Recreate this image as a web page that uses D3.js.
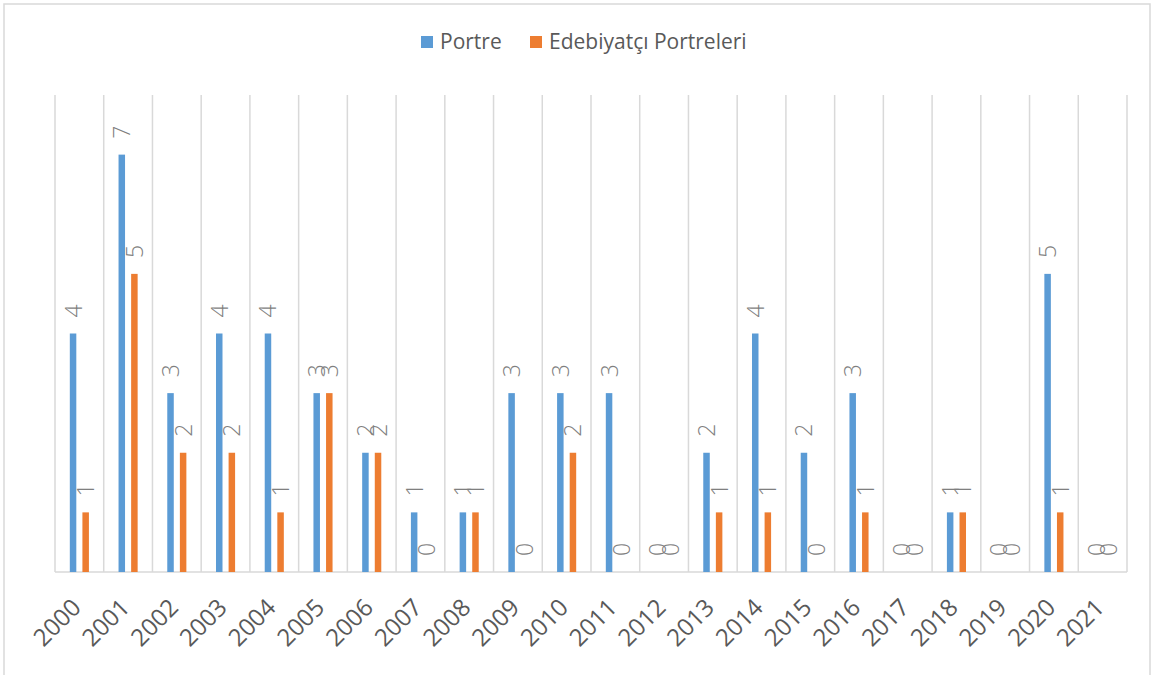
<!DOCTYPE html>
<html>
<head>
<meta charset="utf-8">
<style>
  body { margin: 0; background: #fff; }
  svg { display: block; font-family: 'Open Sans', 'Noto Sans', sans-serif; }
  .grid line { stroke: #d9d9d9; stroke-width: 1.5; }
  .x .domain { display: none; }
  .x .tick line { display: none; }
  .x .tick text { font-family: 'Open Sans', 'Noto Sans', sans-serif; font-size: 24px; fill: #595959; }
  .lbl { font-size: 23px; fill: #7f7f7f; font-weight: 300; }
  .legend text { font-size: 21px; fill: #595959; }
</style>
</head>
<body>
<svg width="1156" height="675"></svg>
<script src="https://d3js.org/d3.v7.min.js"></script>
<script>
  // chart values
  let years = ["2000","2001","2002","2003","2004","2005","2006","2007","2008","2009","2010",
               "2011","2012","2013","2014","2015","2016","2017","2018","2019","2020","2021"];
  let portre = [4,7,3,4,4,3,2,1,1,3,3,3,0,2,4,2,3,0,1,0,5,0];
  let edebiyatci = [1,5,2,2,1,3,2,0,1,0,2,0,0,1,1,0,1,0,1,0,1,0];
  let seriesNames = ["Portre", "Edebiyatçı Portreleri"];
  let colors = ["#5b9bd5", "#ed7d31"];

  let svg = d3.select("svg");

  let margin = { top: 95, right: 29, bottom: 103, left: 55 };
  let width = 1156, height = 675;

  // outer frame
  svg.append("rect")
    .attr("x", 4).attr("y", 4)
    .attr("width", 1146).attr("height", 690)
    .attr("fill", "none")
    .attr("stroke", "#d9d9d9")
    .attr("stroke-width", 1.5);

  let x = d3.scaleBand()
    .domain(years)
    .range([margin.left, width - margin.right])
    .paddingInner(0).paddingOuter(0);

  let y = d3.scaleLinear()
    .domain([0, 8])
    .range([height - margin.bottom, margin.top]);

  // two bars per year, centred 6.3px either side of the category centre
  let sub = d3.scaleBand()
    .domain([0, 1])
    .range([x.bandwidth() / 2 - 12.6, x.bandwidth() / 2 + 12.6]);

  // vertical gridlines at category boundaries
  let bounds = years.map(function (d) { return x(d) }).concat([x.range()[1]]);
  svg.append("g").attr("class", "grid")
    .selectAll("line")
    .data(bounds)
    .join("line")
    .attr("x1", function (d) { return d }).attr("x2", function (d) { return d })
    .attr("y1", y(8)).attr("y2", y(0));

  svg.append("g").attr("class", "grid")
    .append("line")
    .attr("x1", x.range()[0]).attr("x2", x.range()[1])
    .attr("y1", y(0)).attr("y2", y(0));

  let rows = [];
  years.forEach(function (yr, i) {
    rows.push({ year: yr, s: 0, v: portre[i] });
    rows.push({ year: yr, s: 1, v: edebiyatci[i] });
  });

  let bw = 6.5;
  function cx(d) { return x(d.year) + sub(d.s) + sub.bandwidth() / 2; }

  svg.append("g")
    .selectAll("rect")
    .data(rows.filter(function (d) { return d.v > 0 }))
    .join("rect")
    .attr("x", function (d) { return cx(d) - bw / 2 })
    .attr("y", function (d) { return y(d.v) })
    .attr("width", bw)
    .attr("height", function (d) { return y(0) - y(d.v) })
    .attr("fill", function (d) { return colors[d.s] });

  // rotated value labels
  svg.append("g")
    .selectAll("text")
    .data(rows)
    .join("text")
    .attr("class", "lbl")
    .attr("transform", function (d) {
      return "translate(" + (cx(d) + 8.5) + "," + (y(d.v) - 16) + ") rotate(-90)";
    })
    .attr("text-anchor", "start")
    .text(function (d) { return d.v });

  // x axis
  let xAxis = svg.append("g")
    .attr("class", "x axis")
    .attr("transform", "translate(0," + y(0) + ")")
    .call(d3.axisBottom(x).tickSize(0).tickPadding(0));

  xAxis.selectAll(".tick text")
    .attr("text-anchor", "end")
    .attr("dy", 0)
    .attr("y", 0)
    .attr("transform", "translate(3,37) rotate(-45)");

  // legend
  let legend = svg.append("g").attr("class", "legend");
  let legendX = [421, 530];
  seriesNames.forEach(function (name, i) {
    legend.append("rect")
      .attr("x", legendX[i]).attr("y", 36)
      .attr("width", 12).attr("height", 12)
      .attr("fill", colors[i]);
    legend.append("text")
      .attr("x", legendX[i] + 19).attr("y", 49)
      .text(name);
  });
</script>
</body>
</html>
